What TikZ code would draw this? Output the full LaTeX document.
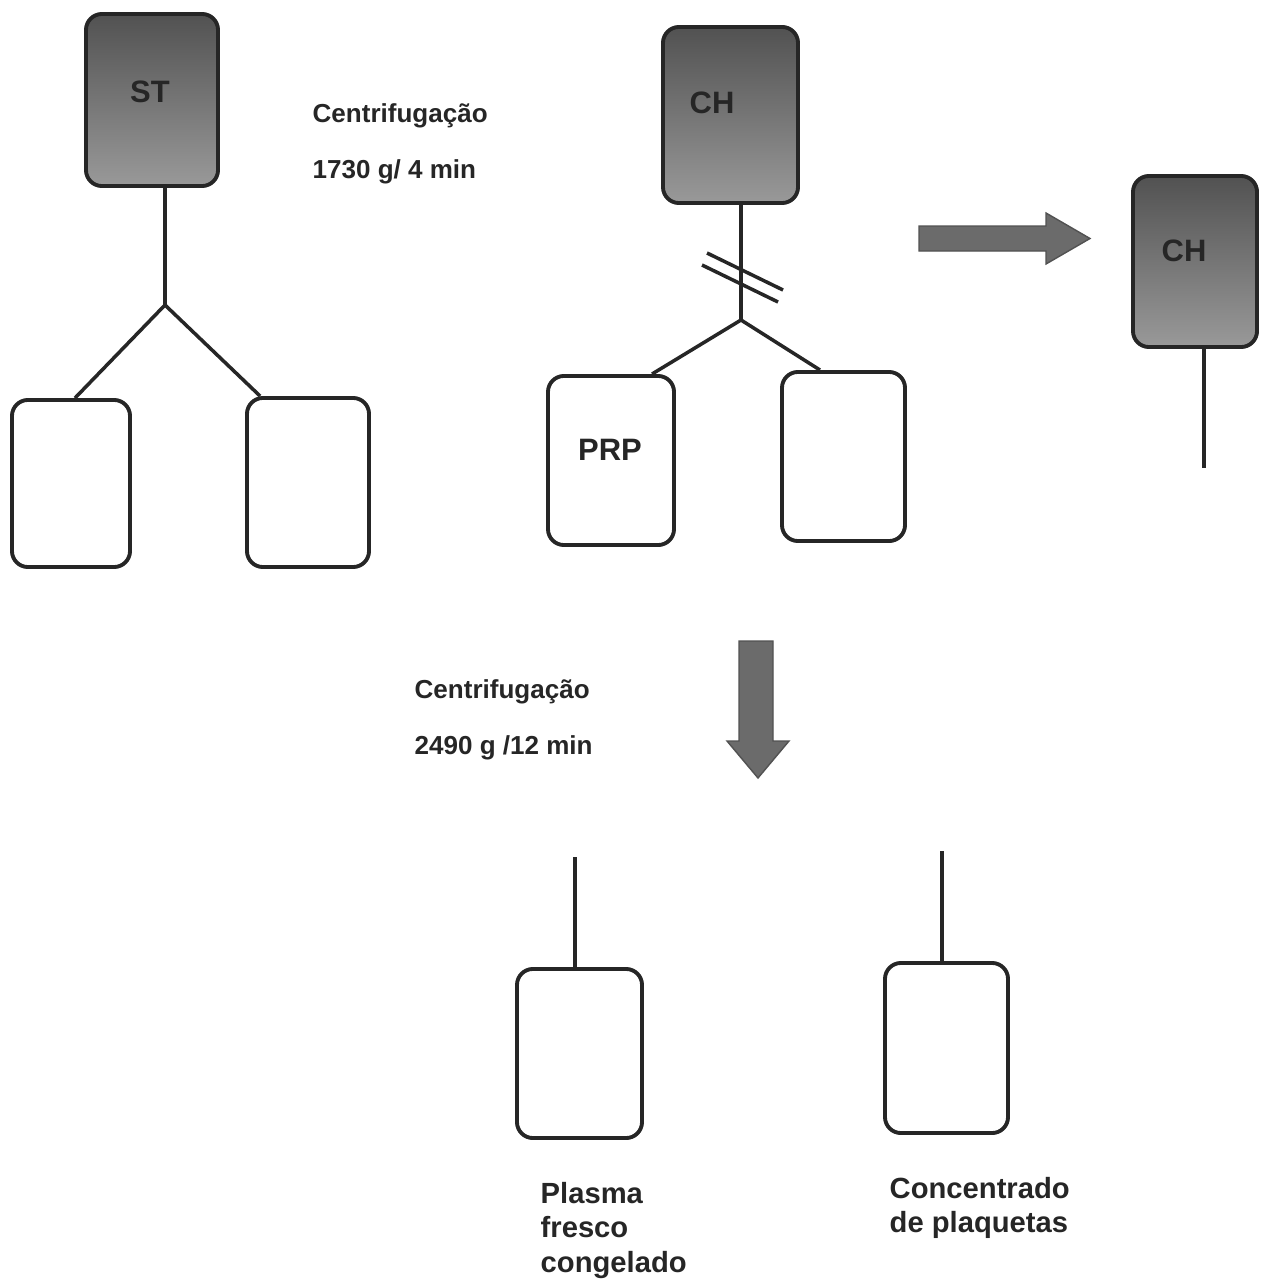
\documentclass[tikz,border=0pt]{standalone}
\usepackage{fontspec}
\setmainfont{Liberation Sans}
\begin{document}
\begin{tikzpicture}[x=0.01cm,y=-0.01cm,
  bag/.style={draw=black!85, line width=1.1pt, rounded corners=0.16cm, fill=white, inner sep=0pt},
  dbag/.style={bag, top color=black!68, bottom color=black!40},
  tube/.style={line width=1pt, draw=black!85},
  lbl/.style={font=\bfseries\fontsize{8.8}{10}\selectfont, text=black!85, inner sep=0pt},
  captxt/.style={font=\bfseries\fontsize{7.4}{9}\selectfont, anchor=base west, text=black!85, inner sep=0pt},
  outlbl/.style={font=\bfseries\fontsize{8.3}{9.7}\selectfont, align=left, anchor=north west, text=black!85, inner sep=0pt},
  bigarrow/.style={fill=black!58, draw=black!68, line width=0.4pt}]
\useasboundingbox (0,0) rectangle (1266,1279);
\fill[white] (0,0) rectangle (1266,1279);

% bags
\node[dbag, minimum width=1.32cm, minimum height=1.72cm] (st) at (152,100) {};
\node[bag, minimum width=1.18cm, minimum height=1.67cm] (l1) at (71,483.5) {};
\node[bag, minimum width=1.22cm, minimum height=1.69cm] (r1) at (308,482.5) {};
\node[dbag, minimum width=1.35cm, minimum height=1.76cm] (ch) at (730.5,115) {};
\node[bag, minimum width=1.26cm, minimum height=1.69cm] (prp) at (611,460.5) {};
\node[bag, minimum width=1.23cm, minimum height=1.69cm] (r2) at (843.5,456.5) {};
\node[dbag, minimum width=1.24cm, minimum height=1.71cm] (ch2) at (1195,261.5) {};
\node[bag, minimum width=1.25cm, minimum height=1.69cm] (pfc) at (579.5,1053.5) {};
\node[bag, minimum width=1.23cm, minimum height=1.70cm] (cp) at (946.5,1048) {};

% bag labels
\node[lbl] (stl) at (150,92) {ST};
\node[lbl] (chl) at (712,103) {CH};
\node[lbl] (prpl) at (610,450) {PRP};
\node[lbl] (ch2l) at (1184,251) {CH};

% tubing, first set
\coordinate (j1) at (165,305);
\draw[tube] (st.south -| j1) -- (j1);
\draw[tube] (j1) -- ([xshift=0.04cm]l1.north);
\draw[tube] (j1) -- ([xshift=0.15cm]r1.north west);

% tubing, second set
\coordinate (j2) at (741,320);
\draw[tube] (ch.south -| j2) -- (j2);
\draw[tube] (j2) -- ([xshift=0.41cm]prp.north);
\draw[tube] (j2) -- ([xshift=-0.235cm]r2.north);
\draw[tube] (707,253) -- (783,290);
\draw[tube] (702,265) -- (778,302);

% separated CH
\coordinate (t3) at (1204,468);
\draw[tube] (ch2.south -| t3) -- (t3);

% bottom bags
\coordinate (t4) at (575,857);
\draw[tube] (t4) -- (pfc.north -| t4);
\coordinate (t5) at (942,851);
\draw[tube] (t5) -- (cp.north -| t5);

% big arrows
\filldraw[bigarrow] (919,226) -- (1046,226) -- (1046,213) -- (1090,238.5) -- (1046,264) -- (1046,251) -- (919,251) -- cycle;
\filldraw[bigarrow] (739,641) -- (773,641) -- (773,741) -- (789,741) -- (758,778) -- (727,741) -- (739,741) -- cycle;

% captions
\node[captxt] (c1a) at (312,123) {Centrifugação};
\node[captxt] (c1b) at (312,179) {1730 g/ 4 min};
\node[captxt] (c2a) at (414,698) {Centrifugação};
\node[captxt] (c2b) at (414,754) {2490 g /12 min};

\node[outlbl] (o1) at (540,1182) {Plasma\\fresco\\congelado};
\node[outlbl] (o2) at (889,1177) {Concentrado\\de plaquetas};
\end{tikzpicture}
\end{document}
